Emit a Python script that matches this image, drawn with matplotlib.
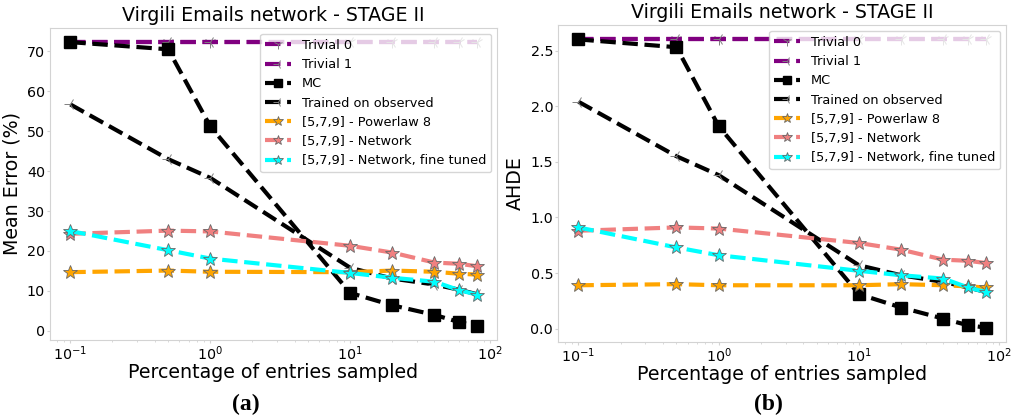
import matplotlib
matplotlib.use("Agg")
import matplotlib.pyplot as plt

# Sampling percentages
pct = [0.1, 0.5, 1, 10, 20, 40, 60, 80]

# Panel (a): Mean Error (%)
err_trivial0 = [72.3] * 8
err_trivial1 = [72.3] * 8
err_mc = [72.3, 70.5, 51.2, 9.5, 6.4, 4.0, 2.2, 1.3]
err_observed = [56.7, 43.0, 38.3, 15.8, 13.1, 11.6, 10.3, 9.2]
err_powerlaw = [14.7, 15.1, 14.8, 14.7, 15.1, 14.8, 14.3, 14.1]
err_network = [24.3, 25.1, 24.9, 21.3, 19.6, 17.1, 16.8, 16.2]
err_finetuned = [25.0, 20.2, 18.1, 14.5, 13.3, 12.3, 10.2, 9.1]

# Panel (b): AHDE
ahde_trivial0 = [2.60] * 8
ahde_trivial1 = [2.60] * 8
ahde_mc = [2.60, 2.53, 1.82, 0.31, 0.19, 0.09, 0.03, 0.01]
ahde_observed = [2.04, 1.55, 1.38, 0.57, 0.48, 0.42, 0.37, 0.33]
ahde_powerlaw = [0.39, 0.40, 0.39, 0.39, 0.40, 0.39, 0.38, 0.37]
ahde_network = [0.88, 0.91, 0.90, 0.77, 0.71, 0.62, 0.61, 0.59]
ahde_finetuned = [0.91, 0.73, 0.66, 0.52, 0.48, 0.45, 0.37, 0.33]

labels = ["Trivial 0", "Trivial 1", "MC", "Trained on observed",
          "[5,7,9] - Powerlaw 8", "[5,7,9] - Network",
          "[5,7,9] - Network, fine tuned"]

title = "Virgili Emails network - STAGE II"
xlabel = "Percentage of entries sampled"


def draw(ax, series, ylabel):
    t0, t1, mc, obs, pl, net, ft = series
    lw = 3
    ax.plot(pct, t0, ls="--", lw=lw, color="purple", marker="1", ms=9,
            mec="grey", mew=0.7, label=labels[0])
    ax.plot(pct, t1, ls="--", lw=lw, color="purple", marker="3", ms=9,
            mec="grey", mew=0.7, label=labels[1])
    ax.plot(pct, mc, ls="--", lw=lw, color="black", marker="s", ms=8.5,
            label=labels[2])
    ax.plot(pct, obs, ls="--", lw=lw, color="black", marker="3", ms=9,
            mec="grey", mew=0.7, label=labels[3])
    star = dict(ls="--", lw=lw, marker="*", ms=10, mec="dimgrey", mew=0.6)
    ax.plot(pct, pl, color="orange", mfc="orange", label=labels[4], **star)
    ax.plot(pct, net, color="lightcoral", mfc="lightcoral", label=labels[5], **star)
    ax.plot(pct, ft, color="cyan", mfc="cyan", label=labels[6], **star)
    ax.set_xscale("log")
    ax.set_title(title, fontsize=13.7, pad=5)
    ax.set_xlabel(xlabel, fontsize=13.7, labelpad=0)
    ax.set_ylabel(ylabel, fontsize=13.7, labelpad=4)
    ax.tick_params(labelsize=10.3, color="lightgrey", pad=1.5, length=2)
    ax.tick_params(which="minor", color="lightgrey", length=1.5)
    for s in ax.spines.values():
        s.set_color("lightgrey")
    ax.legend(loc="upper right", fontsize=9.3, handlelength=2.0,
              borderaxespad=0.45, labelspacing=0.48, markerscale=0.75)


fig = plt.figure(figsize=(10.11, 4.17), dpi=100)
ax1 = fig.add_axes([0.0495, 0.185, 0.442, 0.748])
ax2 = fig.add_axes([0.552, 0.180, 0.443, 0.760])

draw(ax1, [err_trivial0, err_trivial1, err_mc, err_observed, err_powerlaw,
           err_network, err_finetuned], "Mean Error (%)")
draw(ax2, [ahde_trivial0, ahde_trivial1, ahde_mc, ahde_observed, ahde_powerlaw,
           ahde_network, ahde_finetuned], "AHDE")

cap = dict(ha="center", va="center", fontsize=17, fontweight="bold",
           family="Liberation Serif")
fig.text(0.243, 0.030, "(a)", **cap)
fig.text(0.760, 0.030, "(b)", **cap)

fig.savefig("out.png", dpi=100)
